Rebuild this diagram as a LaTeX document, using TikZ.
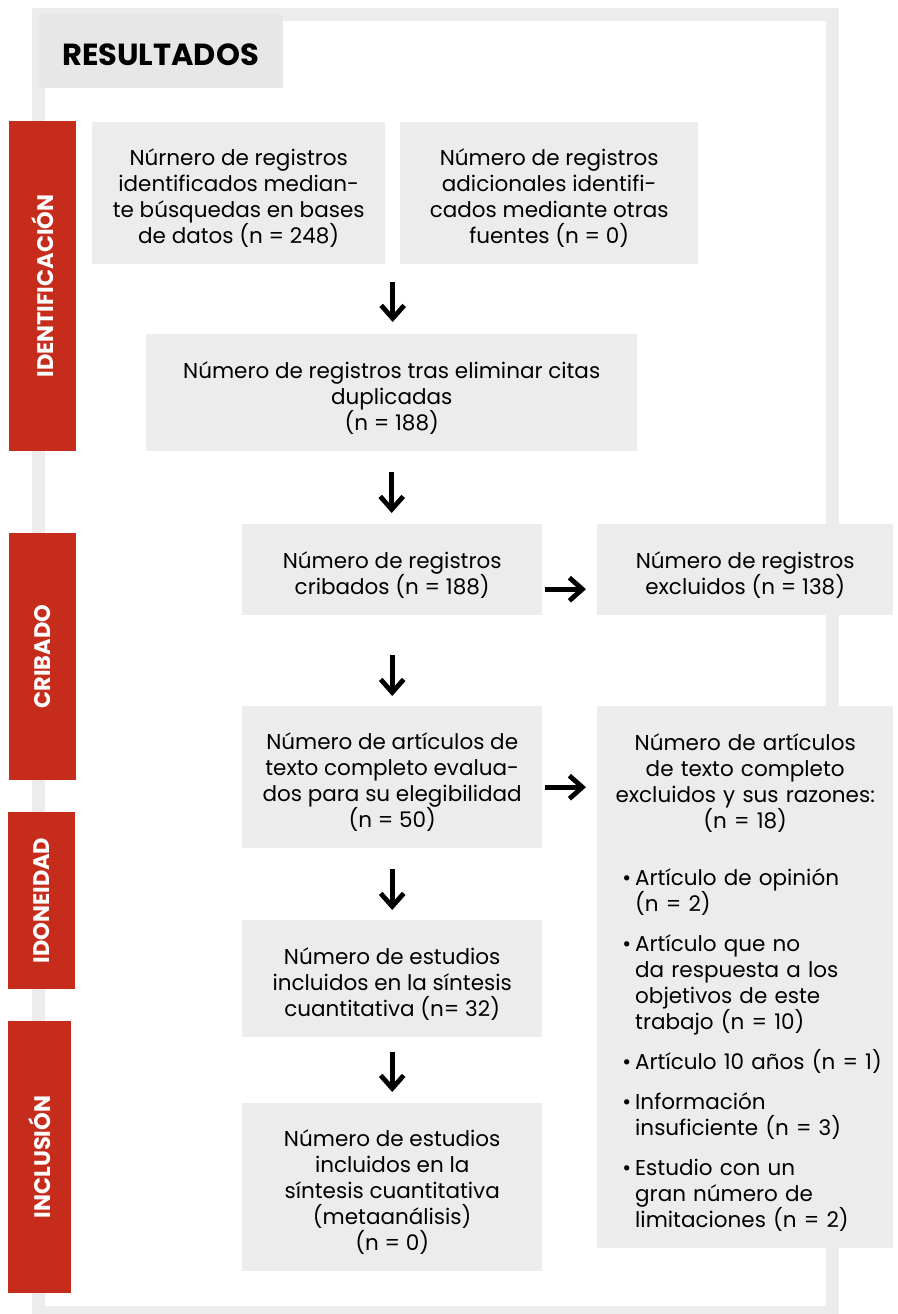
\documentclass[tikz,border=0pt]{standalone}
\usepackage{fontspec}
\setmainfont{Poppins}
\usetikzlibrary{arrows.meta,calc}
\definecolor{boxgray}{HTML}{ECECEC}
\definecolor{titlegray}{HTML}{E7E7E7}
\definecolor{phasered}{HTML}{C62C1B}
\newcommand\toprule{\rule{0pt}{27pt}}
\tikzset{
  box/.style={fill=boxgray,inner sep=0pt,anchor=north west,align=center,font=\fontsize{21.5}{26}\selectfont},
  phase/.style={fill=phasered,text=white,inner sep=0pt,rotate=90,font=\bfseries\fontsize{22.5}{26}\selectfont},
  arr/.style={line width=4.8pt,-{Straight Barb[length=13pt,width=23pt]}},
}
\begin{document}
\begin{tikzpicture}[x=1pt,y=-1pt]
\useasboundingbox (0,0) rectangle (897,1314);
%frame
\draw[boxgray,line width=13pt] (38.5,14.5) rectangle (832,1312.5);
\fill[titlegray] (38,15) rectangle (283,88);
\node[anchor=west,inner sep=0pt,font=\bfseries\fontsize{30.5}{34}\selectfont] (title) at (62,55) {RESULTADOS};
%phases
\foreach\nm/\lab/\x/\y/\len/\th in {idf/IDENTIFICACIÓN/42.5/286/330/67,crb/CRIBADO/42.5/656.5/247/67,ido/IDONEIDAD/41.5/900.5/177/67,inc/INCLUSIÓN/39.5/1157/272/63} {
  \node[phase,minimum width=\len,minimum height=\th] (\nm) at (\x,\y) {\lab};
}
%boxes
\node[box,minimum width=293,minimum height=142] (srch) at (92,122) {\toprule Núrnero de registros\\identificados median-\\te búsquedas en bases\\de datos (n = 248)};
\node[box,minimum width=298,minimum height=142] (othr) at (400,122) {\toprule Número de registros\\adicionales identifi-\\cados mediante otras\\fuentes (n = 0)};
\node[box,minimum width=491,minimum height=117] (dupl) at (146,334) {\toprule Número de registros tras eliminar citas\\duplicadas\\(n = 188)};
\node[box,minimum width=300,minimum height=91] (scrn) at (242,524) {\toprule Número de registros\\cribados (n = 188)};
\node[box,minimum width=296,minimum height=91] (excl) at (597,524) {\toprule Número de registros\\excluidos (n = 138)};
\node[box,minimum width=300,minimum height=142] (full) at (242,706) {\toprule Número de artículos de\\texto completo evalua-\\dos para su elegibilidad\\(n = 50)};
\node[box,minimum width=296,minimum height=542,text width=262,inner xsep=17,align=left] (fexc) at (597,706) {%
  {\centering\toprule Número de artículos\\de texto completo\\excluidos y sus razones:\\(n = 18)\par}
  \begin{list}{\textbullet}{\setlength\leftmargin{21pt}\setlength\rightmargin{-14pt}\setlength\labelsep{4pt}\setlength\labelwidth{12pt}%
    \setlength\itemsep{14pt}\setlength\parsep{0pt}\setlength\topsep{31pt}\setlength\partopsep{0pt}}
  \item Artículo de opinión\\(n = 2)
  \item Artículo que no\\da respuesta a los\\objetivos de este\\trabajo (n = 10)
  \item Artículo 10 años (n = 1)
  \item Información\\insuficiente (n = 3)
  \item Estudio con un\\gran número de\\limitaciones (n = 2)
  \end{list}};
\node[box,minimum width=300,minimum height=117] (qual) at (242,920) {\toprule Número de estudios\\incluidos en la síntesis\\cuantitativa (n= 32)};
\node[box,minimum width=300,minimum height=168] (meta) at (242,1103) {\toprule Número de estudios\\incluidos en la\\síntesis cuantitativa\\(metaanálisis)\\(n = 0)};
%arrows
\coordinate (mid) at ($(srch.south east)!.5!(othr.south west)$);
\draw[arr,shorten <=18pt,shorten >=12pt] (mid) -- (mid |- dupl.north);
\draw[arr,shorten <=21pt,shorten >=11pt] (dupl.south) -- (dupl.south |- scrn.north);
\draw[arr,shorten <=40pt,shorten >=10pt] (scrn.south) -- (full.north);
\draw[arr,shorten <=21pt,shorten >=10pt] (full.south) -- (qual.north);
\draw[arr,shorten <=15pt,shorten >=11pt] (qual.south) -- (meta.north);
\draw[arr,shorten <=3pt,shorten >=11pt] ([yshift=-19.5pt]scrn.east) -- ([yshift=-19.5pt]excl.west);
\draw[arr,shorten <=3pt,shorten >=11pt] ([yshift=-10pt]full.east) -- ([yshift=-10pt]full.east -| fexc.west);
\end{tikzpicture}
\end{document}
